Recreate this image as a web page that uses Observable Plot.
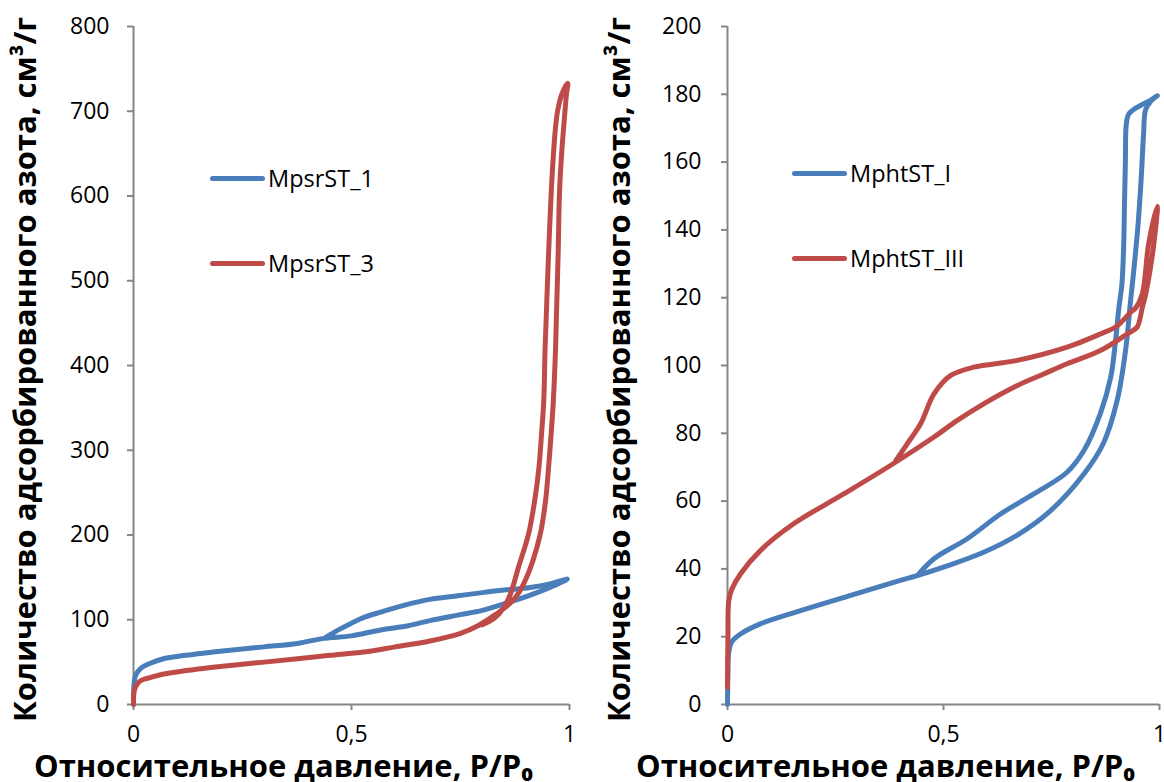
<!DOCTYPE html>
<html><head><meta charset="utf-8">
<script src="https://cdn.jsdelivr.net/npm/d3@7"></script>
<script src="https://cdn.jsdelivr.net/npm/@observablehq/plot@0.6"></script>
<style>
html,body{margin:0;padding:0;background:#fff;}
#root{position:relative;width:1164px;height:782px;overflow:hidden;font-family:"Open Sans",sans-serif;}
.panel{position:absolute;top:0;}
.leg{position:absolute;display:flex;align-items:center;height:32px;font-family:"Open Sans",sans-serif;font-size:23.5px;color:#000;white-space:nowrap;}
.sw{width:55px;height:5px;border-radius:3px;margin-right:3px;}
</style></head><body><div id="root"></div>
<script>
// ---- text & ticks ----
const xTicks = [0, 0.5, 1];
const yTicksLeft = [0, 100, 200, 300, 400, 500, 600, 700, 800];
const yTicksRight = [0, 20, 40, 60, 80, 100, 120, 140, 160, 180, 200];
const yTitle = "Количество адсорбированного азота, см³/г";
const xTitle = "Относительное давление, P/P₀";
const namesLeft = ["MpsrST_1", "MpsrST_3"];
const namesRight = ["MphtST_I", "MphtST_III"];
const colors = ["#4A7EBB", "#BE4B48"];

// ---- MpsrST_1 (adsorption then desorption) ----
const psr1P = [0, 0.001, 0.004, 0.01, 0.02, 0.04, 0.069, 0.12, 0.222, 0.3, 0.376, 0.436, 0.5, 0.567, 0.63, 0.68, 0.75, 0.8, 0.87, 0.91, 0.95, 0.985, 0.995,
               0.98, 0.96, 0.91, 0.85, 0.8, 0.74, 0.68, 0.62, 0.567, 0.53, 0.5, 0.47, 0.45, 0.44];
const psr1V = [0, 22, 33, 39, 44, 49, 54, 58, 64, 68, 72, 78, 81, 88, 93, 99, 106, 111, 122, 129, 137, 145, 148,
               146, 143, 138, 135, 132, 128, 124, 117, 109, 103, 96, 88, 82, 79];
// ---- MpsrST_3 ----
const psr3P = [0, 0.001, 0.005, 0.016, 0.04, 0.069, 0.12, 0.222, 0.3, 0.376, 0.45, 0.528, 0.6, 0.68, 0.75, 0.79, 0.83, 0.865, 0.885, 0.9, 0.915, 0.933, 0.945, 0.952, 0.958, 0.963, 0.968, 0.971, 0.974, 0.977, 0.982, 0.988, 0.993, 0.996,
               0.983, 0.973, 0.968, 0.962, 0.958, 0.952, 0.948, 0.944, 0.941, 0.936, 0.93, 0.92, 0.906, 0.883, 0.865, 0.85, 0.83, 0.8];
const psr3V = [0, 14, 21, 28, 32, 36, 40, 46, 50, 54, 58, 62, 68, 75, 84, 93, 106, 120, 133, 148, 168, 201, 240, 280, 320, 359, 420, 477, 532, 603, 650, 690, 720, 733,
               721, 701, 681, 640, 603, 532, 477, 420, 359, 320, 280, 240, 201, 162, 131, 115, 103, 94];
// ---- MphtST_I ----
const pht1P = [0, 0.001, 0.003, 0.01, 0.03, 0.076, 0.169, 0.285, 0.4, 0.439, 0.5, 0.593, 0.67, 0.748, 0.825, 0.87, 0.902, 0.921, 0.933, 0.942, 0.95, 0.958, 0.963, 0.968, 0.98, 0.995,
               0.98, 0.96, 0.94, 0.928, 0.923, 0.921, 0.919, 0.917, 0.913, 0.906, 0.898, 0.887, 0.863, 0.825, 0.786, 0.709, 0.632, 0.555, 0.478, 0.44];
const pht1V = [0, 9, 15.5, 18.5, 20.8, 23.8, 27.7, 32.2, 36.6, 38, 40.5, 44.9, 49.9, 57.2, 68, 77, 89.7, 104, 119, 130, 141, 156, 168, 175.5, 178, 179.6,
               178.3, 177, 175.5, 174, 171, 160, 148, 135, 124, 117, 107, 96.5, 85.8, 74.9, 68.5, 62.1, 56.2, 48.9, 43, 38.1];
// ---- MphtST_III ----
const pht3P = [0, 0.001, 0.003, 0.01, 0.03, 0.076, 0.153, 0.269, 0.377, 0.478, 0.532, 0.593, 0.671, 0.732, 0.786, 0.863, 0.925, 0.948, 0.96, 0.968, 0.978, 0.987, 0.995,
               0.975, 0.96, 0.945, 0.933, 0.9, 0.863, 0.786, 0.671, 0.57, 0.516, 0.478, 0.447, 0.416, 0.39];
const pht3V = [5, 20, 30.7, 34, 38.5, 45.4, 53.3, 62.1, 70.5, 78.9, 83.8, 88.7, 94.1, 97.5, 100.5, 104.4, 109.3, 111.3, 117, 121, 128, 136, 147,
               136, 121, 117, 115.7, 111.5, 109.3, 105.4, 101.5, 99.5, 97, 91.6, 82.8, 76.9, 72];

const axisGray = "#868686";

function rowsOf(series) {
  const rows = [];
  series.forEach(s => s.p.forEach((p, i) => rows.push({name: s.name, p, v: s.v[i]})));
  return rows;
}

function makePanel(o) {
  const rows = rowsOf(o.series);
  return Plot.plot({
    width: o.width, height: 782,
    marginLeft: o.ml, marginRight: o.mr, marginTop: 26, marginBottom: 78,
    style: {fontFamily: "'Open Sans', sans-serif", background: "transparent", color: "black", overflow: "visible"},
    x: {domain: [0, 1]},
    y: {domain: o.yDomain},
    color: {domain: o.series.map(s => s.name), range: colors},
    marks: [
      Plot.axisX(xTicks, {tickSize: 6, tickPadding: 15, fontSize: 23, stroke: axisGray, strokeWidth: 2, fill: "black",
        tickFormat: d => String(d).replace(".", ","), label: null}),
      Plot.axisY(o.yTicks, {tickSize: 6, tickPadding: o.tp, fontSize: 23, stroke: axisGray, strokeWidth: 2, fill: "black", label: null}),
      Plot.ruleX([0], {stroke: axisGray, strokeWidth: 2}),
      Plot.ruleY([0], {stroke: axisGray, strokeWidth: 2}),
      Plot.line(rows, {x: "p", y: "v", z: "name", stroke: "name", strokeWidth: 5, curve: "catmull-rom",
        strokeLinejoin: "round", strokeLinecap: "round"}),
      Plot.text([yTitle], {frameAnchor: "left", dx: -107, dy: 4, rotate: -90, textAnchor: "middle", lineAnchor: "middle",
        fontSize: 31, fontWeight: "bold", fill: "black"}),
      Plot.text([xTitle], {frameAnchor: "bottom", dx: o.xdx, dy: 72, textAnchor: "middle", lineAnchor: "bottom",
        fontSize: 31, fontWeight: "bold", fill: "black"})
    ]
  });
}

const root = document.getElementById("root");

const left = makePanel({
  width: 582, ml: 133, mr: 13, tp: 18, xdx: -68,
  yDomain: [0, 800], yTicks: yTicksLeft,
  series: [
    {name: namesLeft[0], p: psr1P, v: psr1V},
    {name: namesLeft[1], p: psr3P, v: psr3V}
  ]
});
left.classList.add("panel"); left.style.left = "0px";
root.appendChild(left);

const right = makePanel({
  width: 582, ml: 145, mr: 5, tp: 20, xdx: -58,
  yDomain: [0, 200], yTicks: yTicksRight,
  series: [
    {name: namesRight[0], p: pht1P, v: pht1V},
    {name: namesRight[1], p: pht3P, v: pht3V}
  ]
});
right.classList.add("panel"); right.style.left = "582px";
root.appendChild(right);

function legend(names, x, ys) {
  names.forEach((n, i) => {
    const d = document.createElement("div");
    d.className = "leg";
    d.style.left = x + "px";
    d.style.top = (ys[i] - 16) + "px";
    const sw = document.createElement("div");
    sw.className = "sw";
    sw.style.background = colors[i];
    const t = document.createElement("span");
    t.textContent = n;
    d.appendChild(sw); d.appendChild(t);
    root.appendChild(d);
  });
}
legend(namesLeft, 210, [178, 263]);
legend(namesRight, 792, [173, 258]);
</script></body></html>
